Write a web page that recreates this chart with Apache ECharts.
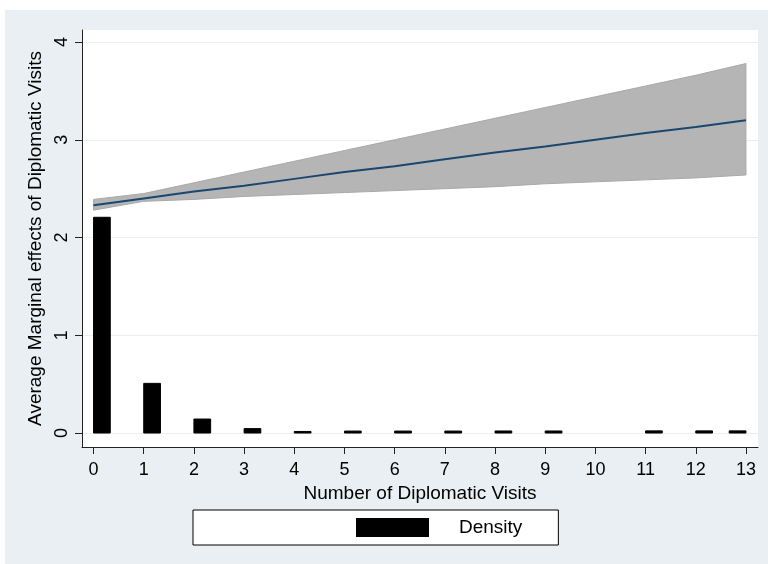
<!DOCTYPE html>
<html>
<head>
<meta charset="utf-8">
<script src="https://cdn.jsdelivr.net/npm/echarts@6/dist/echarts.min.js"></script>
<style>
html,body{margin:0;padding:0;background:#ffffff;}
#chart{position:absolute;left:5px;top:10px;width:763px;height:554px;background:#e9eff2;}
</style>
</head>
<body>
<div id="chart"></div>
<script>
// ---- data ----
const xTicks = [0,1,2,3,4,5,6,7,8,9,10,11,12,13];
const yTicks = [0,1,2,3,4];
const visitsX = [0,1,2,3,4,5,6,7,8,9,10,11,12,13];
const marginalEffect = [2.33,2.40,2.47,2.53,2.60,2.67,2.73,2.80,2.87,2.93,3.00,3.07,3.13,3.20];
const ciUpper = [2.39,2.45,2.56,2.67,2.78,2.89,3.00,3.11,3.22,3.33,3.44,3.55,3.66,3.78];
const ciLower = [2.28,2.37,2.39,2.42,2.44,2.46,2.48,2.50,2.52,2.55,2.57,2.59,2.61,2.64];
const histVisits = [0,1,2,3,4,5,6,7,8,9,11,12,13];
const histDensity = [2.207,0.508,0.143,0.045,0.016,0.020,0.020,0.020,0.021,0.021,0.022,0.022,0.022];
const binCount = 39;
const histMax = 13;

const binW = histMax / binCount;
const FONT = '"Liberation Sans", Arial, sans-serif';

const chart = echarts.init(document.getElementById('chart'), null, {renderer:'canvas'});

const bandPoints = visitsX.map((x,i)=>[x, ciLower[i], ciUpper[i]]);

const option = {
  animation:false,
  backgroundColor:'transparent',
  grid:{left:77, right:10, top:20, bottom:117, show:true, backgroundColor:'#ffffff', borderWidth:0, containLabel:false},
  xAxis:{
    type:'value', min:-0.23, max:13.24,
    name:'Number of Diplomatic Visits', nameLocation:'middle', nameGap:35,
    nameTextStyle:{fontFamily:FONT, fontSize:19, color:'#000'},
    axisLine:{show:true, onZero:false, lineStyle:{color:'#222', width:1}},
    axisTick:{show:true, length:7, customValues:xTicks, lineStyle:{color:'#222'}},
    axisLabel:{customValues:xTicks, fontFamily:FONT, fontSize:18, color:'#000', margin:14},
    splitLine:{show:false}
  },
  yAxis:{
    type:'value', min:-0.143, max:4.123,
    name:'Average Marginal effects of Diplomatic Visits', nameLocation:'middle', nameGap:32, nameRotate:90,
    nameTextStyle:{fontFamily:FONT, fontSize:19, color:'#000'},
    axisLine:{show:true, onZero:false, lineStyle:{color:'#222', width:1}},
    axisTick:{show:true, length:7, customValues:yTicks, lineStyle:{color:'#222'}},
    axisLabel:{customValues:yTicks, rotate:90, fontFamily:FONT, fontSize:18, color:'#000', margin:11},
    splitLine:{show:true, lineStyle:{color:'#eaeff1', width:1}}
  },
  legend:{
    show:true, left:188, top:500,
    data:[{name:'Density', icon:'rect', itemStyle:{color:'#000'}}],
    itemWidth:73, itemHeight:19,
    backgroundColor:'#ffffff', borderColor:'#000', borderWidth:1, borderRadius:0,
    padding:[8,36,8,163],
    textStyle:{fontFamily:FONT, fontSize:19, color:'#000', padding:[0,0,0,25]},
    selectedMode:false
  },
  series:[
    {
      type:'custom', name:'CI', silent:true, z:2,
      data:[[0]],
      renderItem:function(params, api){
        const up = bandPoints.map(p=>api.coord([p[0], p[2]]));
        const lo = bandPoints.slice().reverse().map(p=>api.coord([p[0], p[1]]));
        return {type:'polygon', shape:{points:up.concat(lo)},
          style:{fill:'#b5b5b5', stroke:'#a9a9a9', lineWidth:1}};
      }
    },
    {
      type:'line', name:'AME', z:3, symbol:'none', silent:true,
      data:visitsX.map((x,i)=>[x, marginalEffect[i]]),
      lineStyle:{color:'#1a476f', width:2}
    },
    {
      type:'custom', name:'Density', z:4, silent:true,
      data:histVisits.map((v,i)=>[v, histDensity[i]]),
      itemStyle:{color:'#000'},
      renderItem:function(params, api){
        const v = api.value(0), d = api.value(1);
        const k = Math.min(Math.floor(v/binW + 1e-9), binCount-1);
        const p0 = api.coord([k*binW, 0]);
        const p1 = api.coord([(k+1)*binW, d]);
        return {type:'rect', shape:{x:p0[0], y:p1[1], width:p1[0]-p0[0], height:p0[1]-p1[1]},
          style:{fill:'#000', stroke:'#000', lineWidth:1}};
      }
    }
  ]
};
chart.setOption(option);
</script>
</body>
</html>
